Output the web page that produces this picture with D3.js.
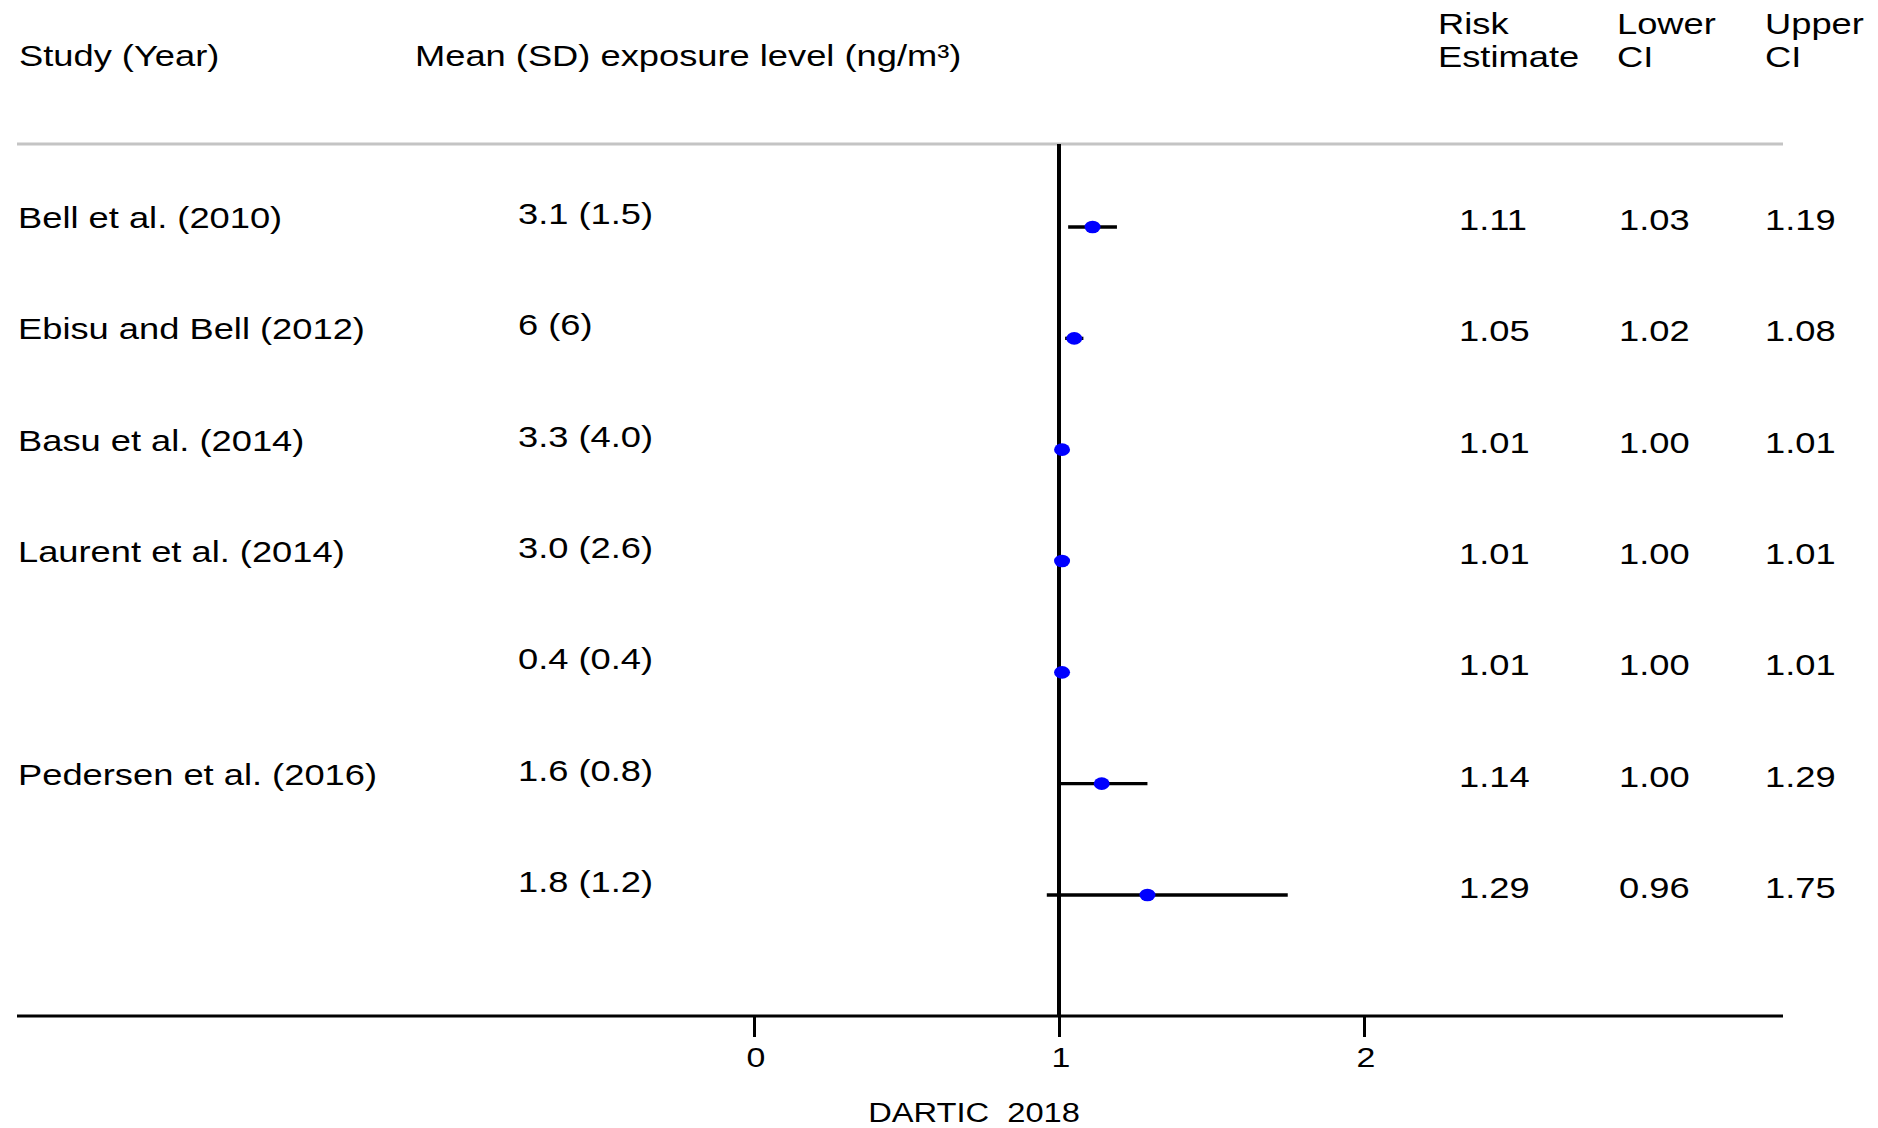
<!DOCTYPE html>
<html>
<head>
<meta charset="utf-8">
<script src="https://cdn.jsdelivr.net/npm/d3@7"></script>
<style>
  body { margin: 0; background: #fff; }
  text { font-family: "Liberation Sans", Arial, sans-serif; fill: #000; }
</style>
</head>
<body>
<div class="visual-container"></div>
<script>
/*************** DATA ***************/
var studies = ['Bell et al. (2010)', 'Ebisu and Bell (2012)', 'Basu et al. (2014)',
  'Laurent et al. (2014)', '', 'Pedersen et al. (2016)', ''];
var exposure = ['3.1 (1.5)', '6 (6)', '3.3 (4.0)', '3.0 (2.6)', '0.4 (0.4)', '1.6 (0.8)', '1.8 (1.2)'];
var estimate = [1.11, 1.05, 1.01, 1.01, 1.01, 1.14, 1.29];
var lowerCI  = [1.03, 1.02, 1.00, 1.00, 1.00, 1.00, 0.96];
var upperCI  = [1.19, 1.08, 1.01, 1.01, 1.01, 1.29, 1.75];
var xTicks = [0, 1, 2];
var caption = 'DARTIC  2018';

/*************** LAYOUT ***************/
const width = 1878;
const height = 1128;
const left = 17, right = 1783;   // extent of the two horizontal rules
const topRule = 144, axisY = 1016;
const stretch = 1.21;            // original text is drawn wider than plain Arial

var svg = d3.select('.visual-container')
  .append('svg')
  .attr('width', width)
  .attr('height', height);

// x = risk estimate, y = row index
var x = d3.scaleLinear().domain([0, 2]).range([754, 1364]);
var y = d3.scalePoint().domain(d3.range(studies.length)).range([227, 895]);

// text helper: puts a horizontally stretched label at (px, py)
function label(g, px, py, str, size, anchor) {
  return g.append('text')
    .attr('transform', 'translate(' + px + ',' + py + ') scale(' + stretch + ',1)')
    .attr('text-anchor', anchor || 'start')
    .style('font-size', size + 'px')
    .style('white-space', 'pre')
    .text(str);
}

/*************** HEADERS ***************/
var head = svg.append('g');
label(head, 19, 66, 'Study (Year)', 30);
label(head, 415, 66, 'Mean (SD) exposure level (ng/m\u00B3)', 30);
label(head, 1438, 34, 'Risk', 30);
label(head, 1438, 67, 'Estimate', 30);
label(head, 1617, 34, 'Lower', 30);
label(head, 1617, 67, 'CI', 30);
label(head, 1765, 34, 'Upper', 30);
label(head, 1765, 67, 'CI', 30);

svg.append('line')
  .attr('x1', left).attr('x2', right)
  .attr('y1', topRule).attr('y2', topRule)
  .attr('stroke', '#c4c4c4')
  .attr('stroke-width', 3);

/*************** ROWS ***************/
var fmt = d3.format('.2f');
var rows = svg.append('g');
studies.forEach(function(s, i) {
  label(rows, 18, y(i) + 1, s, 30);
  label(rows, 518, y(i) - 3, exposure[i], 30);
  label(rows, 1459, y(i) + 3, fmt(estimate[i]), 30);
  label(rows, 1619, y(i) + 3, fmt(lowerCI[i]), 30);
  label(rows, 1765, y(i) + 3, fmt(upperCI[i]), 30);
});

// line of no effect
svg.append('line')
  .attr('x1', x(1)).attr('x2', x(1))
  .attr('y1', topRule).attr('y2', axisY)
  .attr('stroke', '#000')
  .attr('stroke-width', 4);

// confidence intervals
svg.selectAll('.ci')
  .data(estimate)
  .enter()
  .append('line')
    .attr('class', 'ci')
    .attr('x1', (d, i) => x(lowerCI[i]))
    .attr('x2', (d, i) => x(upperCI[i]))
    .attr('y1', (d, i) => y(i))
    .attr('y2', (d, i) => y(i))
    .attr('stroke', '#000')
    .attr('stroke-width', 3.3);

// point estimates
svg.selectAll('.pt')
  .data(estimate)
  .enter()
  .append('ellipse')
    .attr('class', 'pt')
    .attr('cx', d => x(d))
    .attr('cy', (d, i) => y(i))
    .attr('rx', 8)
    .attr('ry', 6.3)
    .attr('fill', '#0000ff');

/*************** AXIS ***************/
svg.append('line')
  .attr('x1', left).attr('x2', right)
  .attr('y1', axisY).attr('y2', axisY)
  .attr('stroke', '#000')
  .attr('stroke-width', 3);

var axis = svg.append('g')
  .attr('transform', 'translate(0,' + axisY + ')')
  .call(d3.axisBottom(x).tickValues(xTicks).tickSize(21).tickFormat(''))
  .call(g => g.select('.domain').remove());
axis.selectAll('.tick line').attr('stroke', '#000').attr('stroke-width', 3);

var tickLabels = svg.append('g');
xTicks.forEach(function(t) {
  label(tickLabels, x(t) + 2, 1067, String(t), 28, 'middle');
});

label(svg, 974, 1122, caption, 27, 'middle');
</script>
</body>
</html>
